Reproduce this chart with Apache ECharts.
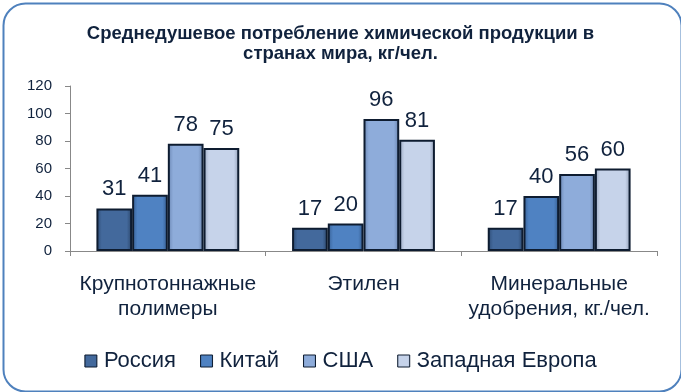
<!DOCTYPE html>
<html><head><meta charset="utf-8">
<script src="https://cdn.jsdelivr.net/npm/echarts@6/dist/echarts.min.js"></script>
<style>html,body{margin:0;padding:0;background:#fff}#c{width:681px;height:392px}</style>
</head><body><div id="c"></div>
<script>
const titleText = 'Среднедушевое потребление химической продукции в\nстранах мира, кг/чел.';
const categories = ['Крупнотоннажные\nполимеры', 'Этилен', 'Минеральные\nудобрения, кг./чел.'];
const seriesNames = ['Россия', 'Китай', 'США', 'Западная Европа'];
const russia = [31, 17, 17];
const china = [41, 20, 40];
const usa = [78, 96, 56];
const westEurope = [75, 81, 60];
const yTicks = [0, 20, 40, 60, 80, 100, 120];

const values = [russia, china, usa, westEurope];
const baseColors = [
  ['#2c4a73', '#43699c', '#2a4569'],
  ['#365f94', '#4f82c2', '#335a8c'],
  ['#6a86b3', '#8eacda', '#6680ab'],
  ['#98a6bf', '#c6d3ea', '#8f9cb4']
];
const legendColors = ['#3d6495', '#4a7fc1', '#86a5d6', '#c0cde6'];
const textColor = '#10223d';

const chart = echarts.init(document.getElementById('c'));
chart.setOption({
  backgroundColor: '#fff',
  animation: false,
  title: {
    text: titleText, left: 'center', top: 19,
    textStyle: { fontFamily: 'Liberation Sans', fontWeight: 'bold', fontSize: 18.5, color: textColor, lineHeight: 20 }
  },
  legend: {
    data: seriesNames, top: 345, left: 'center', itemGap: 24,
    itemWidth: 12, itemHeight: 12, icon: 'rect',
    itemStyle: { borderColor: '#0e1c30', borderWidth: 1 },
    textStyle: { fontFamily: 'Liberation Sans', fontSize: 22, color: textColor, padding: [0, 0, 0, 2] }
  },
  grid: { left: 70, right: 24, top: 86, bottom: 141 },
  xAxis: {
    type: 'category', data: categories,
    axisLine: { lineStyle: { color: '#888', width: 1 } },
    axisTick: { show: true, length: 5, lineStyle: { color: '#888' } },
    axisLabel: { interval: 0, hideOverlap: false, fontFamily: 'Liberation Sans', fontSize: 21, color: textColor, lineHeight: 25, margin: 21 }
  },
  yAxis: {
    type: 'value', min: 0, max: 120, interval: 20,
    axisLine: { show: true, lineStyle: { color: '#888' } },
    axisTick: { show: true, length: 5, lineStyle: { color: '#888' } },
    splitLine: { show: false },
    axisLabel: { fontFamily: 'Liberation Sans', fontSize: 15, color: textColor, margin: 18,
      formatter: v => yTicks.includes(v) ? String(v) : '' }
  },
  series: seriesNames.map((name, i) => ({
    name, type: 'bar', data: values[i], color: legendColors[i],
    barGap: '0%', barCategoryGap: '27%',
    itemStyle: {
      color: {
        type: 'linear', x: 0, y: 0, x2: 1, y2: 0,
        colorStops: [
          { offset: 0, color: baseColors[i][0] },
          { offset: 0.15, color: baseColors[i][1] },
          { offset: 0.85, color: baseColors[i][1] },
          { offset: 1, color: baseColors[i][2] }
        ]
      },
      borderColor: '#0e1c30', borderWidth: 2
    },
    label: { show: true, position: 'top', distance: 8, fontFamily: 'Liberation Sans', fontSize: 22, color: textColor }
  })),
  graphic: [{
    type: 'rect', left: 1, top: 1, z: 100, silent: true,
    shape: { width: 678, height: 388, r: 22 },
    style: { fill: 'none', stroke: '#4f81bd', lineWidth: 2 }
  }]
});
</script></body></html>
